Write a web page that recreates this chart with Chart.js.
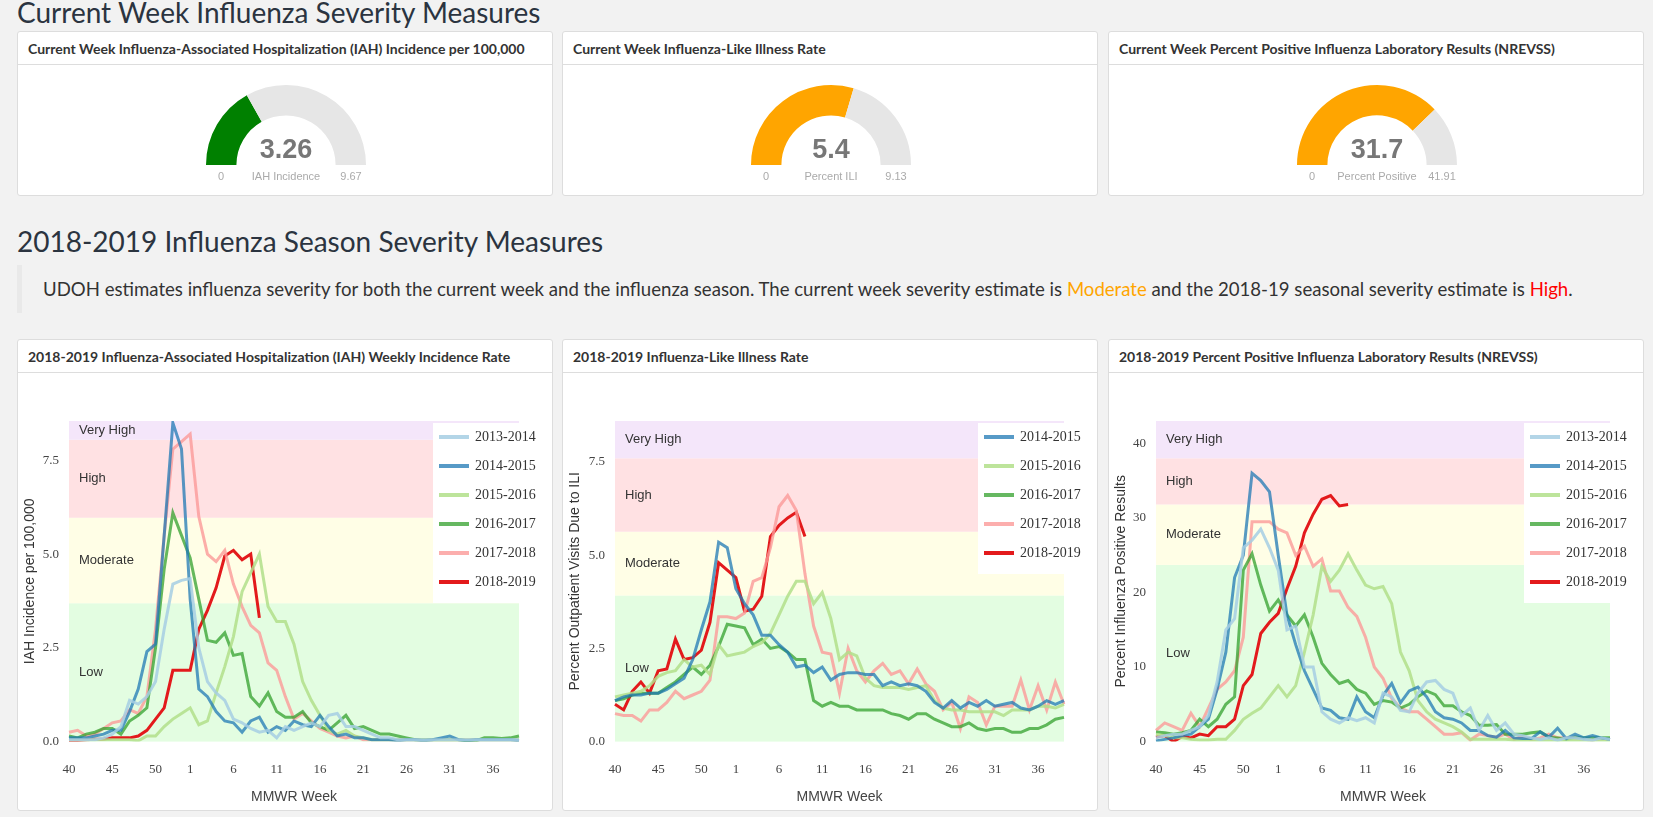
<!DOCTYPE html>
<html>
<head>
<meta charset="utf-8">
<script src="https://cdn.jsdelivr.net/npm/chart.js@4"></script>
<style>
body { margin:0; background:#f2f2f2; font-family:Lato, "Open Sans", sans-serif; color:#333; width:1653px; height:817px; overflow:hidden; position:relative; }
h1 { position:absolute; left:17px; margin:0; font-weight:400; font-size:28px; line-height:34px; color:#2b3440; }
.panel { position:absolute; width:534px; background:#fff; border:1px solid #ddd; border-radius:3px; }
.head { height:32px; border-bottom:1px solid #ddd; font-weight:700; font-size:14px; line-height:33px; padding-left:10px; color:#333; white-space:nowrap; }
.quote { position:absolute; left:17px; top:265px; height:48px; width:1620px; border-left:5px solid #e9e9e9; font-size:18.6px; line-height:48px; padding-left:21px; box-sizing:border-box; white-space:nowrap; }
</style>
</head>
<body>
<h1 style="top:-5px">Current Week Influenza Severity Measures</h1>
<h1 style="top:224px">2018-2019 Influenza Season Severity Measures</h1>
<div class="quote">UDOH estimates influenza severity for both the current week and the influenza season. The current week severity estimate is <span style="color:#ffa500">Moderate</span> and the 2018-19 seasonal severity estimate is <span style="color:red">High</span>.</div>

<div class="panel" style="left:17px;top:31px;height:163px"><div class="head">Current Week Influenza-Associated Hospitalization (IAH) Incidence per 100,000</div><canvas id="g1" style="position:absolute;left:168px;top:49px"></canvas></div>
<div class="panel" style="left:562px;top:31px;height:163px"><div class="head">Current Week Influenza-Like Illness Rate</div><canvas id="g2" style="position:absolute;left:168px;top:49px"></canvas></div>
<div class="panel" style="left:1108px;top:31px;height:163px"><div class="head">Current Week Percent Positive Influenza Laboratory Results (NREVSS)</div><canvas id="g3" style="position:absolute;left:168px;top:49px"></canvas></div>

<div class="panel" style="left:17px;top:339px;height:470px"><div class="head">2018-2019 Influenza-Associated Hospitalization (IAH) Weekly Incidence Rate</div><div style="position:relative;width:534px;height:437px"><canvas id="c1"></canvas></div></div>
<div class="panel" style="left:562px;top:339px;height:470px"><div class="head">2018-2019 Influenza-Like Illness Rate</div><div style="position:relative;width:534px;height:437px"><canvas id="c2"></canvas></div></div>
<div class="panel" style="left:1108px;top:339px;height:470px"><div class="head">2018-2019 Percent Positive Influenza Laboratory Results (NREVSS)</div><div style="position:relative;width:534px;height:437px"><canvas id="c3"></canvas></div></div>

<script>
// MMWR weeks 40..53, 1..39
const weeks = [40,41,42,43,44,45,46,47,48,49,50,51,52,53,1,2,3,4,5,6,7,8,9,10,11,12,13,14,15,16,17,18,19,20,21,22,23,24,25,26,27,28,29,30,31,32,33,34,35,36,37,38,39];
const shownWeeks = [40,45,50,1,6,11,16,21,26,31,36];

// gauges: value, max, label, color
const gaugeValues = [3.26, 5.4, 31.7];
const gaugeMax = [9.67, 9.13, 41.91];
const gaugeLabels = ["IAH Incidence", "Percent ILI", "Percent Positive"];
const gaugeColors = ["#008000", "#ffa500", "#ffa500"];

// IAH incidence per 100,000
const iah1314 = [0.05,0.05,0.05,0.05,0.1,0.2,0.4,1.1,1.0,1.2,1.6,3.0,4.2,4.3,4.35,2.5,1.6,1.3,1.1,0.6,0.5,0.35,0.25,0.3,0.1,0.4,0.3,0.4,0.5,0.4,0.7,0.75,0.4,0.4,0.3,0.2,0.1,0.1,0.05,0.05,0.05,0.05,0.05,0.05,0.05,0.05,0.05,0.05,0.05,0.05,0.05,0.05,0.05];
const iah1415 = [0.1,0.1,0.1,0.15,0.2,0.3,0.3,0.8,1.4,2.4,2.6,5.5,8.5,7.8,3.8,1.4,1.2,0.8,0.55,0.5,0.25,0.55,0.65,0.25,0.4,0.3,0.55,0.45,0.4,0.7,0.4,0.15,0.2,0.1,0.1,0.05,0.05,0.05,0.02,0.05,0.05,0.02,0.05,0.1,0.15,0.05,0.02,0.05,0.05,0.05,0.05,0.05,0.02];
const iah1516 = [0.05,0.05,0.05,0.05,0.05,0.05,0.05,0.05,0.02,0.15,0.15,0.4,0.6,0.75,0.9,0.45,0.55,1.3,2.0,2.8,4.0,4.5,5.0,3.6,3.2,3.2,2.6,1.6,1.1,0.7,0.3,0.2,0.3,0.15,0.1,0.05,0.05,0.05,0.05,0.05,0.05,0.05,0.05,0.05,0.05,0.05,0.05,0.05,0.05,0.05,0.05,0.05,0.05];
const iah1617 = [0.15,0.1,0.2,0.25,0.35,0.35,0.2,0.55,0.7,0.9,2.5,4.6,6.1,5.5,4.9,3.8,2.7,2.65,2.9,2.3,2.35,1.2,0.95,1.3,0.8,0.65,0.65,0.8,0.5,0.4,0.3,0.5,0.7,0.35,0.4,0.3,0.2,0.2,0.15,0.1,0.05,0.05,0.05,0.05,0.05,0.05,0.02,0.02,0.1,0.1,0.08,0.1,0.15];
const iah1718 = [0.25,0.3,0.15,0.2,0.35,0.5,0.55,0.85,0.75,1.2,3.0,5.5,7.8,8.0,8.2,6.0,5.0,4.8,5.1,4.2,3.6,3.1,2.9,2.1,1.9,1.2,0.6,0.75,0.55,0.35,0.25,0.15,0.1,0.15,0.05,0.05,0.05,0.05,0.05,0.05,0.05,0.05,0.05,0.05,0.05,0.05,0.05,0.05,0.05,0.05,0.05,0.05,0.05];
const iah1819 = [0.02,0.03,0.05,0.06,0.07,0.1,0.1,0.1,0.15,0.3,0.6,0.9,1.9,1.9,1.9,3.0,3.5,4.1,4.95,5.1,4.85,5.0,3.3];

// percent outpatient visits due to ILI
const ili1415 = [1.1,1.2,1.25,1.25,1.3,1.3,1.4,1.55,1.7,2.2,3.0,3.75,5.35,5.2,4.1,3.7,3.4,2.85,2.85,2.6,2.4,2.0,2.05,1.85,2.0,1.65,1.8,1.85,1.85,1.8,1.8,1.5,1.6,1.5,1.55,1.5,1.35,1.05,0.9,1.1,0.9,1.05,0.95,1.1,0.95,1.0,1.05,0.9,0.85,0.95,1.1,1.0,1.1];
const ili1516 = [1.2,1.25,1.3,1.35,1.5,1.75,1.85,1.9,2.2,2.0,2.05,1.8,2.6,2.3,2.35,2.4,2.55,2.65,2.9,3.4,3.9,4.3,4.3,3.7,4.0,3.3,2.2,2.4,2.3,1.7,1.5,1.45,1.45,1.45,1.4,1.45,1.5,1.1,0.9,0.85,0.85,0.8,0.8,0.8,0.8,0.7,0.85,0.85,0.85,0.95,0.95,0.9,1.0];
const ili1617 = [1.1,1.15,1.25,1.3,1.3,1.3,1.45,1.6,1.8,2.0,1.8,2.05,2.55,3.15,3.1,3.05,2.6,2.75,2.5,2.55,2.4,2.2,2.2,1.1,0.95,1.05,0.95,0.95,0.85,0.85,0.85,0.85,0.75,0.7,0.6,0.75,0.75,0.6,0.5,0.4,0.4,0.5,0.35,0.3,0.35,0.35,0.25,0.25,0.35,0.35,0.45,0.6,0.65];
const ili1718 = [0.75,0.7,0.7,0.55,0.85,0.85,1.05,1.35,1.15,1.25,1.35,1.65,3.35,3.35,3.3,3.45,4.3,4.4,5.2,6.3,6.6,6.2,4.5,3.1,2.4,2.35,1.3,2.5,1.9,1.6,1.9,2.1,1.8,1.9,1.55,1.95,1.55,1.35,0.85,1.05,0.35,1.2,1.05,0.45,0.95,0.95,0.95,1.65,0.85,1.5,0.85,1.6,1.0];
const ili1819 = [1.0,0.85,1.35,1.6,1.3,1.9,1.95,2.75,2.2,2.25,2.45,3.2,4.8,4.6,4.4,3.5,3.55,3.9,5.5,5.8,6.0,6.15,5.5];

// percent positive influenza results (NREVSS)
const pos1314 = [0.5,0.8,1,1,1.5,2,3.5,8,15,16.5,26,27,28.5,26,23,15,15.5,10,10,4,3,2.5,3.2,2.8,3.2,2.5,6.5,6,4.2,4,6.5,8,8.2,7,6.5,3.5,4.5,1.5,3.5,1.5,2.5,1,0.8,0.5,0.3,0.5,0.2,0.5,0.5,0.3,0.2,0.5,0.3];
const pos1415 = [0.1,0.3,0.5,0.8,1,2,3,7,12,22,25,36,35,33.5,25,17,13,9.5,7,4.5,4.2,3.2,3,6,4,3.2,6.2,7.8,5.2,6.8,7.3,6,4,3.2,3,2.5,1.5,1.5,0.8,0.6,1.5,0.5,0.4,0.4,1.3,0.6,1.8,0.4,1,0.5,0.8,0.5,0.3];
const pos1516 = [1,0.8,0.5,0.5,0.3,0.2,0.2,0.3,0.3,1.5,3,3.8,4.5,6,7.5,6,7.5,12,17,23.5,21.5,23,25.2,23,21,20.5,20.8,18.5,12,9.5,5.5,4,3,2.5,2,1.3,0.3,0.3,0.3,0.3,0.3,0.2,0.2,0.2,0.2,0.2,0.2,0.2,0.2,0.2,0.2,0.2,0.2];
const pos1617 = [1.3,1.2,1,1.2,1.5,3,2,3,5,6,23,25.2,21,17.5,19,17,15.5,17,14,10.5,9,7.8,8.2,7,6.5,5,5.5,5.3,4.5,5,6,6.8,6.3,4.8,4.8,4,3.5,2.2,2.2,2.3,1,1,1,1.2,1.3,0.6,0.5,0.3,0.6,0.5,0.5,0.5,0.5];
const pos1718 = [1.5,2.5,2,1.5,3.8,2,4.5,7,8,9.5,14,29.5,29.5,29.5,28.5,28,25,26.2,23.5,24.5,20.2,20.2,18,16.8,14,10,8.5,5.8,4.5,4,4,3,2,1,1,1.2,0.2,1,0.8,0.6,1,0.3,0.7,0.3,0.5,1,0.5,0.5,0.5,0.3,0.2,0.4,0.3];
const pos1819 = [0.6,0.8,0,0.7,0.5,1,0.8,2,2,3,7.5,9,14.5,16,17.2,20.5,23.5,28,30.5,32.5,33,31.6,31.8];

// severity thresholds: low/moderate, moderate/high, high/very high, axis max
const iahBands = [3.69, 5.97, 8.05, 8.55];
const iliBands = [3.92, 5.63, 7.6, 8.6];
const posBands = [23.7, 31.8, 38, 43];
const bandNames = ["Low", "Moderate", "High", "Very High"];
const bandColors = ["#e3fde1", "#fffee6", "#ffe1e3", "#f4e6fa"];

const seasonColors = {
    "2013-2014": "rgba(166,206,227,0.85)",
    "2014-2015": "rgba(31,120,180,0.75)",
    "2015-2016": "rgba(178,223,138,0.85)",
    "2016-2017": "rgba(51,160,44,0.75)",
    "2017-2018": "rgba(251,154,153,0.8)",
    "2018-2019": "#e31a1c"
};

const gaugePlugin = {
    id: 'gaugeText',
    afterDraw(chart, args, opts) {
        const ctx = chart.ctx, a = chart.chartArea;
        const cx = (a.left + a.right) / 2;
        ctx.save();
        ctx.textAlign = 'center';
        ctx.textBaseline = 'middle';
        ctx.fillStyle = '#777';
        ctx.font = 'bold 27px Arial';
        ctx.fillText(opts.value, cx, a.bottom - 14);
        ctx.font = '11px Arial';
        ctx.fillStyle = '#aaa';
        ctx.fillText(opts.label, cx, a.bottom + 12);
        ctx.fillText('0', cx - 65, a.bottom + 12);
        ctx.fillText(opts.max, cx + 65, a.bottom + 12);
        ctx.restore();
    }
};

function makeGauge(id, i) {
    const c = document.getElementById(id);
    c.width = 200; c.height = 110;
    return new Chart(c, {
        type: 'doughnut',
        data: { datasets: [{ data: [gaugeValues[i], gaugeMax[i] - gaugeValues[i]], backgroundColor: [gaugeColors[i], '#e6e6e6'], borderWidth: 0 }] },
        options: {
            responsive: false, animation: false, rotation: -90, circumference: 180, cutout: '62%',
            layout: { padding: { left: 20, right: 20, top: 4, bottom: 26 } },
            plugins: { legend: { display: false }, tooltip: { enabled: false },
                gaugeText: { value: String(gaugeValues[i]), max: String(gaugeMax[i]), label: gaugeLabels[i] } }
        },
        plugins: [gaugePlugin]
    });
}

const bandPlugin = {
    id: 'bands',
    beforeDatasetsDraw(chart, args, opts) {
        const ctx = chart.ctx, a = chart.chartArea, y = chart.scales.y;
        let lo = 0;
        ctx.save();
        opts.limits.forEach((hi, k) => {
            const top = y.getPixelForValue(hi), bot = y.getPixelForValue(lo);
            ctx.fillStyle = bandColors[k];
            ctx.fillRect(a.left, top, a.right - a.left, bot - top);
            ctx.fillStyle = '#333';
            ctx.font = '13px Arial';
            ctx.textBaseline = 'middle';
            ctx.fillText(bandNames[k], a.left + 10, (top + bot) / 2);
            lo = hi;
        });
        ctx.restore();
    },
    afterDraw(chart) {
        const ctx = chart.ctx, a = chart.chartArea;
        const sets = chart.data.datasets;
        const x0 = a.right - 86, y0 = a.top + 2;
        ctx.save();
        ctx.fillStyle = '#fff';
        ctx.fillRect(x0, y0, 116, sets.length * 29 + 6);
        sets.forEach((s, k) => {
            const yy = y0 + 14 + k * 29;
            ctx.strokeStyle = s.borderColor;
            ctx.lineWidth = 4;
            ctx.beginPath(); ctx.moveTo(x0 + 6, yy); ctx.lineTo(x0 + 36, yy); ctx.stroke();
            ctx.fillStyle = '#333';
            ctx.font = '14px "Liberation Serif", serif';
            ctx.textBaseline = 'middle';
            ctx.fillText(s.label, x0 + 42, yy);
        });
        ctx.restore();
    }
};

function series(label, values) {
    return { label: label, data: values, borderColor: seasonColors[label], borderWidth: 3, pointRadius: 0, tension: 0, fill: false };
}

function makeLineChart(id, sets, bands, yTitle, step, decimals, yWidth) {
    return new Chart(document.getElementById(id), {
        type: 'line',
        data: { labels: weeks, datasets: sets },
        options: {
            maintainAspectRatio: false, animation: false,
            layout: { padding: { top: 48, right: 33, bottom: 2, left: 0 } },
            plugins: { legend: { display: false }, tooltip: { enabled: false }, bands: { limits: bands } },
            scales: {
                x: {
                    grid: { display: false }, border: { display: false },
                    ticks: { autoSkip: false, maxRotation: 0, color: '#444', font: { family: '"Liberation Serif", serif', size: 13 }, padding: 12,
                        callback: function (v) { const w = weeks[v]; return shownWeeks.includes(w) ? String(w) : ''; } },
                    title: { display: true, text: 'MMWR Week', color: '#444', font: { family: 'Arial', size: 14 }, padding: { top: 0, bottom: 2 } }
                },
                y: {
                    min: 0, max: bands[3], afterFit: function (s) { s.width = yWidth; },
                    grid: { display: false }, border: { display: false },
                    ticks: { stepSize: step, includeBounds: false, color: '#444', font: { family: '"Liberation Serif", serif', size: 13 }, padding: 2,
                        callback: function (v) { return v.toFixed(decimals); } },
                    title: { display: true, text: yTitle, color: '#333', font: { family: 'Arial', size: 14 } }
                }
            }
        },
        plugins: [bandPlugin]
    });
}

makeGauge('g1', 0);
makeGauge('g2', 1);
makeGauge('g3', 2);

makeLineChart('c1', [series("2013-2014", iah1314), series("2014-2015", iah1415), series("2015-2016", iah1516),
    series("2016-2017", iah1617), series("2017-2018", iah1718), series("2018-2019", iah1819)],
    iahBands, 'IAH Incidence per 100,000', 2.5, 1, 51);
makeLineChart('c2', [series("2014-2015", ili1415), series("2015-2016", ili1516),
    series("2016-2017", ili1617), series("2017-2018", ili1718), series("2018-2019", ili1819)],
    iliBands, 'Percent Outpatient Visits Due to ILI', 2.5, 1, 52);
makeLineChart('c3', [series("2013-2014", pos1314), series("2014-2015", pos1415), series("2015-2016", pos1516),
    series("2016-2017", pos1617), series("2017-2018", pos1718), series("2018-2019", pos1819)],
    posBands, 'Percent Influenza Positive Results', 10, 0, 47);
</script>
</body>
</html>
